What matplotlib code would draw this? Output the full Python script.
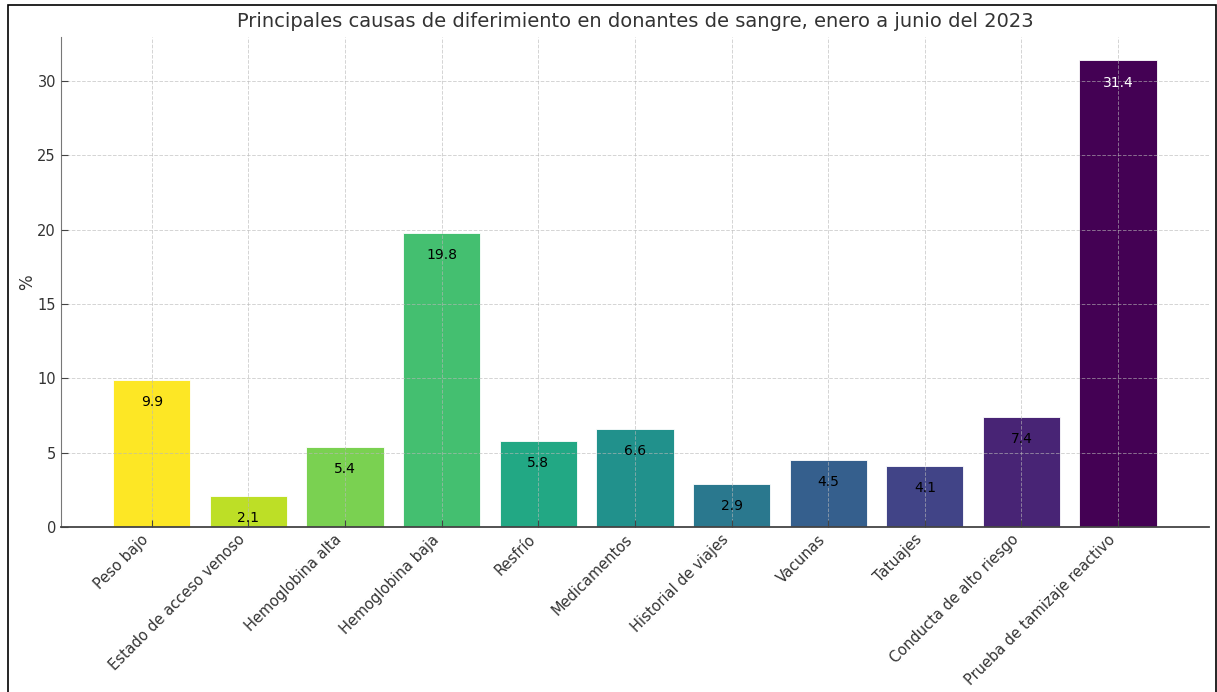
import numpy as np
import matplotlib
matplotlib.use("Agg")
import matplotlib.pyplot as plt
from matplotlib.patches import Rectangle

causas = ["Peso bajo", "Estado de acceso venoso", "Hemoglobina alta",
          "Hemoglobina baja", "Resfrío", "Medicamentos", "Historial de viajes",
          "Vacunas", "Tatuajes", "Conducta de alto riesgo",
          "Prueba de tamizaje reactivo"]
porcentajes = [9.9, 2.1, 5.4, 19.8, 5.8, 6.6, 2.9, 4.5, 4.1, 7.4, 31.4]

TXT = "#333333"

fig = plt.figure(figsize=(12.17, 6.92), dpi=100)
ax = fig.add_axes([0.050, 0.2384, 0.9434, 0.7081])

colores = plt.cm.viridis(np.linspace(1, 0, len(causas)))
x = np.arange(len(causas))
ax.bar(x, porcentajes, width=0.8, color=colores, edgecolor="white",
       linewidth=0.6, zorder=1)

for xi, v in zip(x, porcentajes):
    col = "white" if v > 30 else "black"
    ax.text(xi, v - 1.5, f"{v}", ha="center", va="center", fontsize=10,
            color=col, zorder=3)

ax.grid(True, linestyle="--", color="#b8b8b8", alpha=0.6, linewidth=0.7, zorder=2)
ax.set_axisbelow(False)
ax.set_xticks(x)
ax.set_xticklabels(causas, rotation=45, ha="right", color=TXT)
ax.tick_params(axis="both", direction="in", length=5, colors="#444444",
               labelcolor=TXT, labelsize=10.5)
ax.set_ylabel("%", fontsize=12, color=TXT, labelpad=1)
ax.set_title("Principales causas de diferimiento en donantes de sangre, enero a junio del 2023",
             fontsize=14, color=TXT, pad=7)

for s in ("top", "right"):
    ax.spines[s].set_visible(False)
ax.spines["left"].set_color("#777777")
ax.spines["bottom"].set_color("#444444")
ax.spines["bottom"].set_linewidth(1.3)

# frame around the whole figure
fig.patches.append(Rectangle((8 / 1217, -0.05), 1208 / 1217, 1.05 - 5 / 692,
                             transform=fig.transFigure, fill=False,
                             edgecolor="black", linewidth=1.2))

fig.savefig("out.png", dpi=100, facecolor="white")
